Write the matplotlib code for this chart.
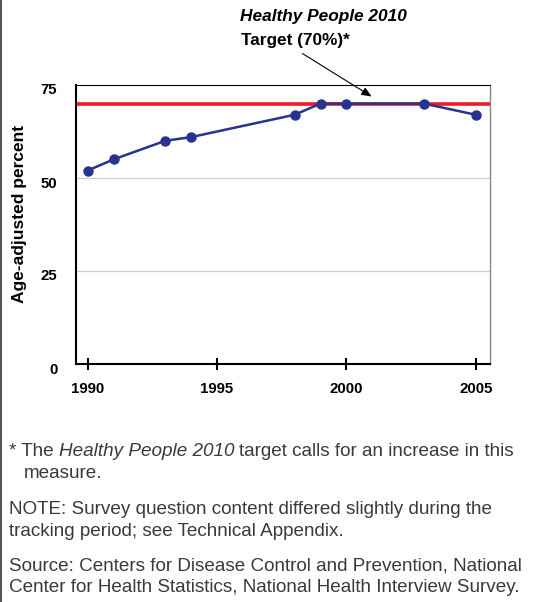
import matplotlib
matplotlib.use('Agg')
import matplotlib.pyplot as plt
import matplotlib.transforms as mtransforms
from matplotlib.lines import Line2D
from matplotlib.patches import FancyArrowPatch

plt.rcParams['font.family'] = ['Liberation Sans', 'DejaVu Sans']

# ── Data ───────────────────────────────────────────────────────────
YEARS = [1990, 1991, 1993, 1994, 1998, 1999, 2000, 2003, 2005]
PERCENT = [52, 55, 60, 61, 67, 70, 70, 70, 67]
TARGET = 70
XTICKS = [1990, 1995, 2000, 2005]
YTICKS = [0, 25, 50, 75]

BLUE = '#27338f'
RED = '#ed1c24'
NOTE_COLOR = '#3a3a3a'

W, H = 538, 602
FS = 13.6      # footnote size
SP = 3.7       # word space, points


def fx(px):
    return px / W


def fy(py):
    return 1 - py / H


fig = plt.figure(figsize=(W / 100, H / 100), dpi=100)
ax = fig.add_axes([fx(76), fy(364), fx(490) - fx(76), fy(85) - fy(364)])

ax.set_xlim(1989.55, 2005.55)
ax.set_ylim(0, 75)

for v in YTICKS[1:-1]:
    ax.axhline(v, color='#cccccc', linewidth=0.9, zorder=1)

ax.axhline(TARGET, color=RED, linewidth=2.6, zorder=2)
ax.plot(YEARS, PERCENT, color=BLUE, linewidth=1.8, marker='o',
        markersize=6.5, markeredgecolor=BLUE, markerfacecolor=BLUE, zorder=3)

ax.set_xticks(XTICKS)
ax.set_xticklabels([str(x) for x in XTICKS], fontsize=10.8, fontweight='bold')
ax.set_yticks(YTICKS)
ax.set_yticklabels([str(y) for y in YTICKS], fontsize=10.8, fontweight='bold')
ax.tick_params(axis='x', direction='inout', length=8.6, width=1.5, pad=9)
ax.tick_params(axis='y', length=0, pad=13.5)
offset = mtransforms.ScaledTranslation(0, -0.04, fig.dpi_scale_trans)
for lbl in ax.get_yticklabels():
    lbl.set_transform(lbl.get_transform() + offset)

ax.spines['left'].set_linewidth(1.5)
ax.spines['bottom'].set_linewidth(1.5)
ax.spines['top'].set_linewidth(0.8)
ax.spines['right'].set_linewidth(1.0)
ax.spines['right'].set_color('#888888')

fig.text(fx(20), fy(214), 'Age-adjusted percent', rotation=90,
         ha='center', va='center', fontsize=12.5, fontweight='bold')

# target annotation
fig.text(fx(240), fy(17), 'Healthy People 2010', fontsize=12.4,
         fontweight='bold', fontstyle='italic', ha='left', va='center')
fig.text(fx(241), fy(40), 'Target (70%)*', fontsize=12.4,
         fontweight='bold', ha='left', va='center')
fig.add_artist(FancyArrowPatch(
    (fx(300), fy(52)), (fx(374), fy(98)), transform=fig.transFigure,
    arrowstyle='-|>,head_length=6,head_width=2.5', color='black',
    linewidth=0.8))

# left border
fig.add_artist(Line2D([fx(1), fx(1)], [0, 1], transform=fig.transFigure,
                      color='#555555', linewidth=1.5))


# ── Footnotes ──────────────────────────────────────────────────────
def text_after(prev, txt, style):
    return ax.annotate(txt, xy=(1, 0), xycoords=prev, xytext=(SP, 0),
                       textcoords='offset points', fontsize=FS,
                       fontstyle=style, color=NOTE_COLOR,
                       ha='left', va='bottom', annotation_clip=False)


def note(x, y, txt):
    return fig.text(fx(x), fy(y), txt, fontsize=FS, color=NOTE_COLOR,
                    ha='left', va='center')


t = note(9, 452, '* The')
t = text_after(t, 'Healthy People 2010', 'italic')
t = text_after(t, 'target calls for an increase in this', 'normal')
note(24, 474, 'measure.')
note(9, 510, 'NOTE: Survey question content differed slightly during the')
note(9, 532, 'tracking period; see Technical Appendix.')
note(9, 566, 'Source: Centers for Disease Control and Prevention, National')
note(9, 588, 'Center for Health Statistics, National Health Interview Survey.')

fig.savefig('out.png', dpi=100, facecolor='white')
